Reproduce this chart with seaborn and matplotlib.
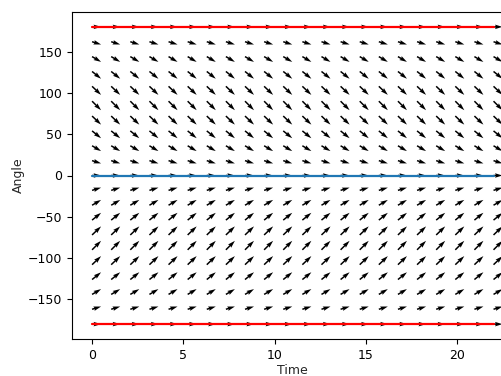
import numpy as np
import matplotlib
matplotlib.use("Agg")
import matplotlib.pyplot as plt
import pandas as pd
import seaborn as sns

# Grid of the direction field: time samples and angle samples (degrees)
times = np.linspace(0, 22, 22)
angles = np.linspace(-180, 180, 21)

# Equilibrium lines: unstable at +/-180, stable at 0
eq_unstable = [180, -180]
eq_stable = [0]
line_times = [0, 22]

sns.set_style("ticks")
plt.rcParams["font.family"] = ["DejaVu Sans"]
plt.rcParams["font.size"] = 9

fig = plt.figure(figsize=(5.02, 3.76), dpi=100)
ax = fig.add_axes([72 / 502, 37 / 376, 441.6 / 502, 327 / 376])

# Pendulum-like field: d(angle)/dt = -sin(angle)
T, A = np.meshgrid(times, angles)
U = np.ones_like(T)
V = -np.sin(np.deg2rad(A))
ax.quiver(T, A, U, V, scale_units="dots", scale=1 / 9.0, width=0.0034, zorder=2)

for a in eq_unstable:
    df = pd.DataFrame({"Time": line_times, "Angle": [a, a]})
    sns.lineplot(data=df, x="Time", y="Angle", color="red", lw=1.6, ax=ax, zorder=3)
for a in eq_stable:
    df = pd.DataFrame({"Time": line_times, "Angle": [a, a]})
    sns.lineplot(data=df, x="Time", y="Angle", color="#1f77b4", lw=1.6, ax=ax, zorder=3)

ax.set_xlim(-1.1, 23.1)
ax.set_ylim(-198, 198)
ax.set_xticks([0, 5, 10, 15, 20])
ax.set_yticks([-150, -100, -50, 0, 50, 100, 150])
ax.set_xlabel("Time", labelpad=1.8)
ax.set_ylabel("Angle", labelpad=1.8)
for s in ax.spines.values():
    s.set_visible(True)
    s.set_linewidth(0.8)
    s.set_color("black")
ax.tick_params(colors="black", length=3.5, width=0.8)

fig.savefig("out.png", dpi=100)
